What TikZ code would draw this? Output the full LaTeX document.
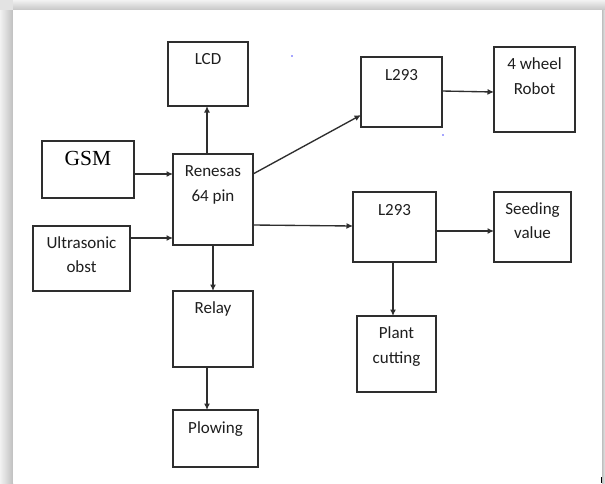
\documentclass[tikz,border=0pt]{standalone}
\usepackage{fontspec}
\setmainfont{Carlito}
\newfontfamily\serifgsm{Liberation Serif}
\usetikzlibrary{arrows.meta}
\definecolor{inkc}{HTML}{1E1E1E}
\definecolor{linec}{HTML}{2E2E2E}
\tikzset{
  box/.style={draw=linec, line width=1.35pt, rectangle, inner sep=0pt, outer sep=0pt, fill=white},
  txt/.style={anchor=base, inner sep=0pt, text=inkc, font=\fontsize{17}{20}\selectfont},
  gsmtxt/.style={anchor=base, inner sep=0pt, text=black, font=\serifgsm\fontsize{21.5}{24}\selectfont},
  arr/.style={draw=linec, line width=1.35pt, -{Latex[length=6.5pt,width=6pt]}},
}
\begin{document}
\begin{tikzpicture}[x=1pt,y=-1pt]
\useasboundingbox (0,0) rectangle (605,483);
% page shadow frame
\fill[gray!22] (0,0) rectangle (605,483);
\shade[left color=gray!10, right color=gray!50] (0,10) rectangle (13,483);
\shade[top color=gray!10, bottom color=gray!45] (13,0) rectangle (605,10);
\shade[left color=gray!50, right color=gray!20] (602,10) rectangle (605,483);
\fill[white] (13,10) rectangle (602,483);

% boxes
\node[box, minimum width=80, minimum height=64] (lcd) at (208,74) {};
\node[box, minimum width=81, minimum height=70] (la) at (401.5,92) {};
\node[box, minimum width=81, minimum height=85] (rob) at (534.5,89.5) {};
\node[box, minimum width=92, minimum height=57] (gsm) at (88,169.5) {};
\node[box, minimum width=80, minimum height=91] (ren) at (213,199.5) {};
\node[box, minimum width=97, minimum height=65] (ult) at (81.5,258.5) {};
\node[box, minimum width=83, minimum height=70] (lb) at (394.5,227) {};
\node[box, minimum width=77, minimum height=70] (seed) at (532.5,227) {};
\node[box, minimum width=80, minimum height=76] (rel) at (213,329) {};
\node[box, minimum width=79, minimum height=76] (pla) at (396.5,354) {};
\node[box, minimum width=85, minimum height=57] (plo) at (215.5,438.5) {};

% texts
\node[txt] (lcdT) at (lcd.north |- 0,64) {LCD};
\node[txt] (laT) at (la.north |- 0,80) {L293};
\node[txt] (robT1) at (rob.north |- 0,69) {4 wheel};
\node[txt] (robT2) at (rob.north |- 0,94) {Robot};
\node[gsmtxt] (gsmT) at (gsm.north |- 0,165) {GSM};
\node[txt] (renT1) at (ren.north |- 0,176) {Renesas};
\node[txt] (renT2) at (ren.north |- 0,201) {64 pin};
\node[txt] (ultT1) at (ult.north |- 0,248) {Ultrasonic};
\node[txt] (ultT2) at (ult.north |- 0,272) {obst};
\node[txt] (lbT) at (lb.north |- 0,215) {L293};
\node[txt] (seedT1) at (seed.north |- 0,214) {Seeding};
\node[txt] (seedT2) at (seed.north |- 0,238) {value};
\node[txt] (relT) at (rel.north |- 0,313) {Relay};
\node[txt] (plaT1) at (pla.north |- 0,338) {Plant};
\node[txt] (plaT2) at (pla.north |- 0,363) {cutting};
\node[txt] (ploT) at (plo.north |- 0,433) {Plowing};

% connectors
\draw[arr] (gsm.east |- 0,174) -- (ren.west |- 0,174);
\draw[arr] (ult.east |- 0,238) -- (ren.west |- 0,238);
\draw[arr] (ren.north -| 207,0) -- (lcd.south -| 207,0);
\draw[arr] (ren.east |- 0,174) -- (la.west |- 0,115);
\draw[arr] (la.east |- 0,91) -- (rob.west |- 0,92);
\draw[arr] (ren.east |- 0,225) -- (lb.west |- 0,226);
\draw[arr] (lb.east |- 0,231) -- (seed.west |- 0,231);
\draw[arr] (lb.south -| 393,0) -- (pla.north -| 393,0);
\draw[arr] (ren.south -| 213,0) -- (rel.north -| 213,0);
\draw[arr] (rel.south -| 207,0) -- (plo.north -| 207,0);

% stray marks of the original
\fill[blue!70] (292,56) circle (0.8);
\fill[blue!70] (443,135) circle (0.8);
\draw[black, line width=1pt] (601,477) -- (601,483);
\end{tikzpicture}
\end{document}
